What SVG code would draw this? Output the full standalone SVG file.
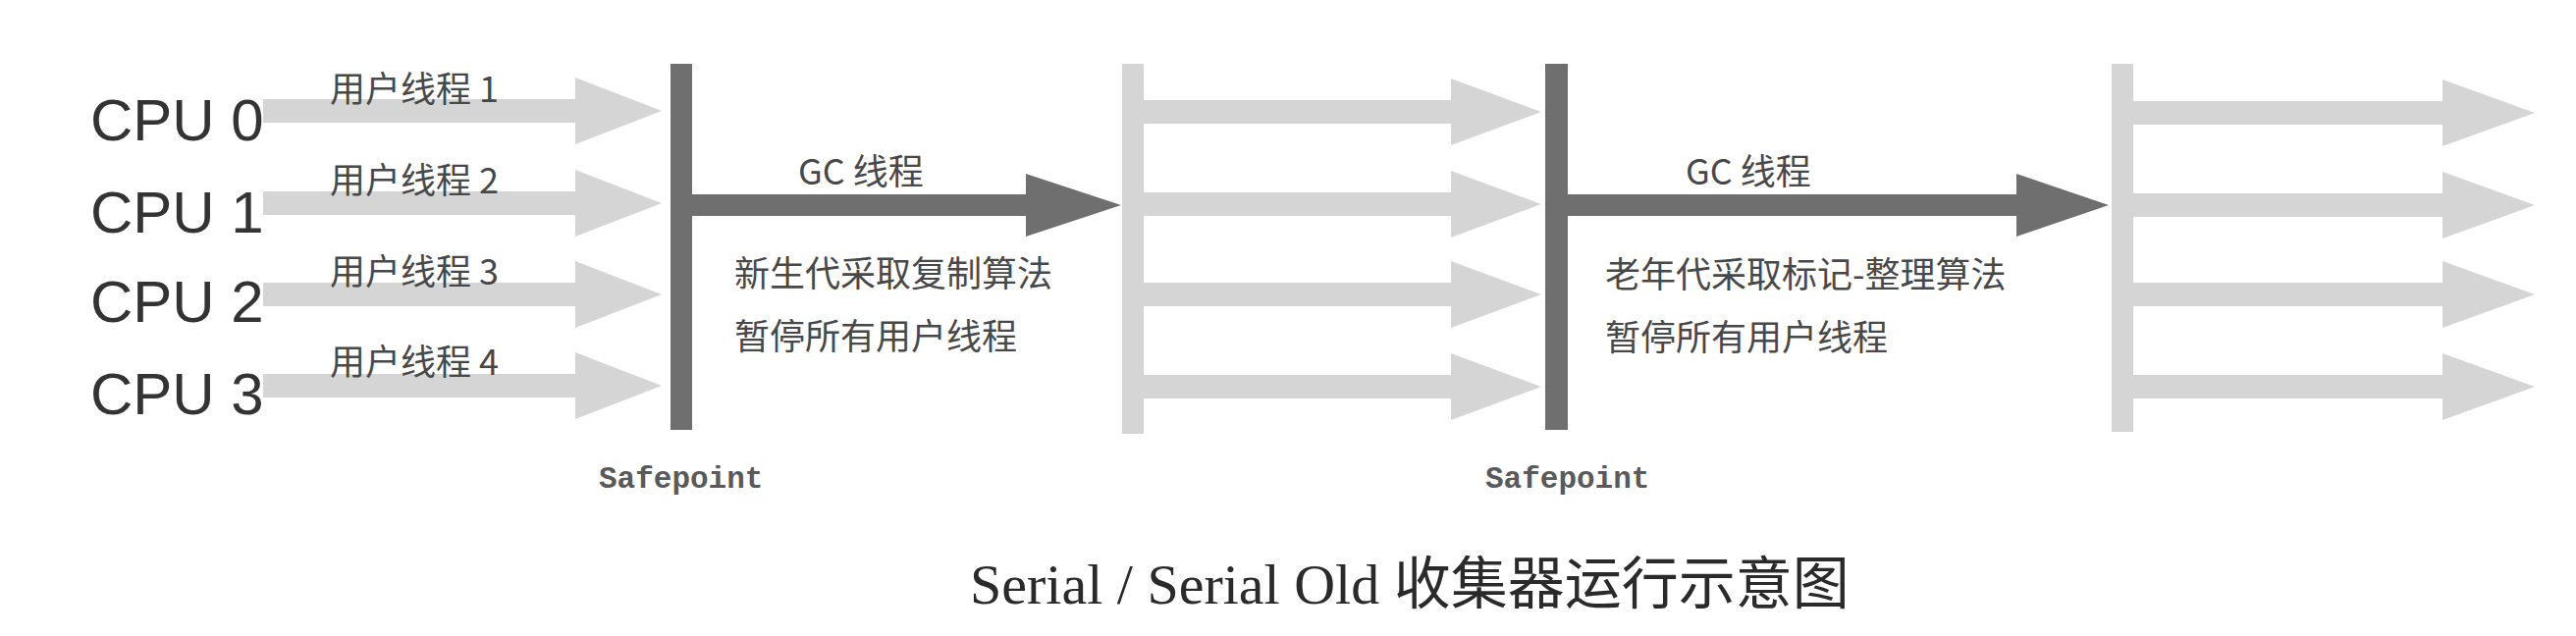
<svg xmlns="http://www.w3.org/2000/svg" width="2624" height="648" viewBox="0 0 2624 648">
<defs>
<style>
.bg{fill:#ffffff}
.light{fill:#d5d5d5}
.dark{fill:#6f6f6f}
.cpu{font-family:"Liberation Sans","Noto Sans",sans-serif;font-size:60px;fill:#333333}
.lbl{font-family:"Noto Sans CJK SC","Liberation Sans",sans-serif;font-size:36px;fill:#484848}
.sp{font-family:"Liberation Mono",monospace;font-size:31px;font-weight:bold;fill:#5a5a5a}
.title{font-family:"Liberation Serif","Noto Sans CJK SC",serif;font-size:58px;fill:#2a2a2a}
</style>
<path id="la" d="M0,-12 H318 V-34 L406,0 L318,34 V12 H0 Z"/>
<path id="lb" d="M0,-12 H313 V-34 L405,0 L313,34 V12 H0 Z"/>
<path id="lc" d="M0,-12 H315 V-34 L409,0 L315,34 V12 H0 Z"/>
</defs>
<rect class="bg" x="0" y="0" width="2624" height="648"/>

<g id="connectors">
  <g class="light">
    <use href="#la" x="268" y="113"/>
    <use href="#la" x="268" y="207"/>
    <use href="#la" x="268" y="300"/>
    <use href="#la" x="268" y="393"/>
    <use href="#lb" x="1165" y="114"/>
    <use href="#lb" x="1165" y="208"/>
    <use href="#lb" x="1165" y="300"/>
    <use href="#lb" x="1165" y="394"/>
    <use href="#lc" x="2173" y="115"/>
    <use href="#lc" x="2173" y="209"/>
    <use href="#lc" x="2173" y="300"/>
    <use href="#lc" x="2173" y="394"/>
  </g>
  <g class="dark">
    <path id="gc1" d="M705,198 H1045 V177 L1142,209 L1045,241 V220 H705 Z"/>
    <path id="gc2" d="M1597,198 H2054 V177 L2148,209 L2054,241 V220 H1597 Z"/>
  </g>
</g>

<g id="safepoint1">
  <rect class="dark" x="683" y="65" width="22" height="373"/>
  <text class="sp" x="610" y="497">Safepoint</text>
</g>
<g id="resume1">
  <rect class="light" x="1143" y="65" width="22" height="377"/>
</g>
<g id="safepoint2">
  <rect class="dark" x="1574" y="65" width="23" height="373"/>
  <text class="sp" x="1513" y="497">Safepoint</text>
</g>
<g id="resume2">
  <rect class="light" x="2151" y="65" width="22" height="375"/>
</g>

<g id="cpus">
  <text class="cpu" x="92" y="143">CPU 0</text>
  <text class="cpu" x="92" y="237">CPU 1</text>
  <text class="cpu" x="92" y="328">CPU 2</text>
  <text class="cpu" x="92" y="422">CPU 3</text>
</g>

<g id="user-threads">
  <text class="lbl" x="336" y="104">用户线程 1</text>
  <text class="lbl" x="336" y="197">用户线程 2</text>
  <text class="lbl" x="336" y="290">用户线程 3</text>
  <text class="lbl" x="336" y="382">用户线程 4</text>
</g>

<g id="gc-young">
  <text class="lbl" x="813" y="188">GC 线程</text>
  <text class="lbl" x="748" y="292">新生代采取复制算法</text>
  <text class="lbl" x="748" y="356">暂停所有用户线程</text>
</g>

<g id="gc-old">
  <text class="lbl" x="1717" y="188">GC 线程</text>
  <text class="lbl" x="1635" y="293">老年代采取标记-整理算法</text>
  <text class="lbl" x="1635" y="357">暂停所有用户线程</text>
</g>

<g id="caption">
  <text class="title" x="988" y="615">Serial / Serial Old 收集器运行示意图</text>
</g>
</svg>
